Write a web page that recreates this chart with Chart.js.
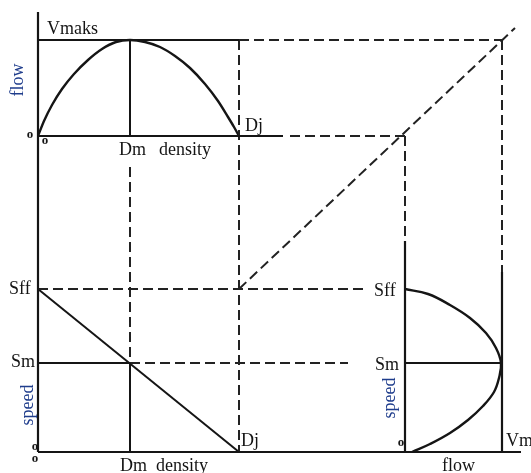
<!DOCTYPE html>
<html>
<head>
<meta charset="utf-8">
<script src="https://cdn.jsdelivr.net/npm/chart.js@4"></script>
<style>
html,body{margin:0;padding:0;background:#fff;}
#wrap{width:531px;height:473px;}
</style>
</head>
<body>
<div id="wrap"><canvas id="c" width="531" height="473"></canvas></div>
<script>
// Diagram coordinates
const flowDensityCurve = [[38,136],[44,121],[52,105],[62,89],[74,74],[88,60],[102,49],[116,42],[130,40],[145,42],[160,47],[175,56],[190,68],[205,84],[218,101],[228,117],[234,127],[239,136]];
const speedDensityLine = [[38,289],[239,452]];
const speedFlowCurve = [[405,289],[428,294],[450,305],[470,318],[486,333],[496,348],[501,363],[499,378],[494,392],[483,406],[468,420],[450,433],[430,444],[412,452]];
const axisLines = [
  [[38,12],[38,452]], [[38,452],[521,452]], [[38,136],[283,136]],
  [[405,241],[405,452]], [[502,272],[502,452]]
];
const solidGuides = [
  [[38,40],[239,40]], [[130,40],[130,136]], [[130,363],[130,452]],
  [[38,363],[130,363]], [[405,363],[501,363]]
];
const dashedGuides = [
  [[239,40],[502,40]], [[290,136],[405,136]], [[239,40],[239,452]],
  [[130,167],[130,363]], [[38,289],[368,289]], [[130,363],[348,363]],
  [[405,136],[405,241]], [[502,40],[502,272]], [[239,289],[515,28]]
];
const textLabels = ['Vmaks','Dj','Dm','density','Sff','Sm','Dj','Dm  density','Sff','Sm','Vm','flow'];
const axisTitles = ['flow','speed','speed'];

const pts = a => a.map(p => ({x:p[0], y:p[1]}));
const datasets = [];
function addLine(arr, opts){
  datasets.push(Object.assign({
    data: pts(arr), showLine: true, pointRadius: 0, borderColor: '#151515',
    borderWidth: 2, fill: false, tension: 0
  }, opts || {}));
}
axisLines.forEach(s => addLine(s, {borderWidth: 2.2}));
solidGuides.forEach(s => addLine(s, {borderWidth: 2}));
dashedGuides.forEach(s => addLine(s, {borderWidth: 2, borderDash: [10,5], borderColor: '#222'}));
addLine(speedDensityLine, {borderWidth: 2});
addLine(flowDensityCurve, {borderWidth: 2.4, cubicInterpolationMode: 'monotone'});
addLine(speedFlowCurve, {borderWidth: 2.4, tension: 0.4});

const textPlugin = {
  id: 'diagramText',
  afterDatasetsDraw(chart){
    const ctx = chart.ctx, xs = chart.scales.x, ys = chart.scales.y;
    const X = v => xs.getPixelForValue(v), Y = v => ys.getPixelForValue(v);
    ctx.save();
    ctx.fillStyle = '#141414';
    ctx.font = '18px "Liberation Serif", "DejaVu Serif", serif';
    ctx.textBaseline = 'alphabetic';
    ctx.textAlign = 'left';
    const place = [[47,34],[245,131],[119,155],[159,155],[9,294],[11,367],[241,446],[120,471],[374,296],[375,370],[506,446],[442,471]];
    textLabels.forEach((t,i) => ctx.fillText(t, X(place[i][0]), Y(place[i][1])));
    // small origin marks
    ctx.font = 'bold 13px "Liberation Serif", serif';
    ctx.textAlign = 'center';
    ctx.textBaseline = 'middle';
    [[30,135],[45,141],[35,447],[35,459],[401,443]].forEach(p => ctx.fillText('o', X(p[0]), Y(p[1])));
    // rotated axis titles
    ctx.fillStyle = '#1f3d8c';
    ctx.font = '18px "Liberation Serif", "DejaVu Serif", serif';
    const rot = [[18,80],[28,405],[390,398]];
    axisTitles.forEach((t,i) => {
      ctx.save();
      ctx.translate(X(rot[i][0]), Y(rot[i][1]));
      ctx.rotate(-Math.PI/2);
      ctx.textAlign = 'center';
      ctx.textBaseline = 'middle';
      ctx.fillText(t, 0, 0);
      ctx.restore();
    });
    ctx.restore();
  }
};

new Chart(document.getElementById('c'), {
  type: 'scatter',
  data: { datasets },
  options: {
    responsive: false,
    animation: false,
    layout: { padding: 0 },
    plugins: { legend: { display: false }, tooltip: { enabled: false } },
    scales: {
      x: { type: 'linear', min: 0, max: 531, display: false },
      y: { type: 'linear', min: 0, max: 473, reverse: true, display: false }
    },
    elements: { line: { borderCapStyle: 'butt' } }
  },
  plugins: [textPlugin]
});
</script>
</body>
</html>
